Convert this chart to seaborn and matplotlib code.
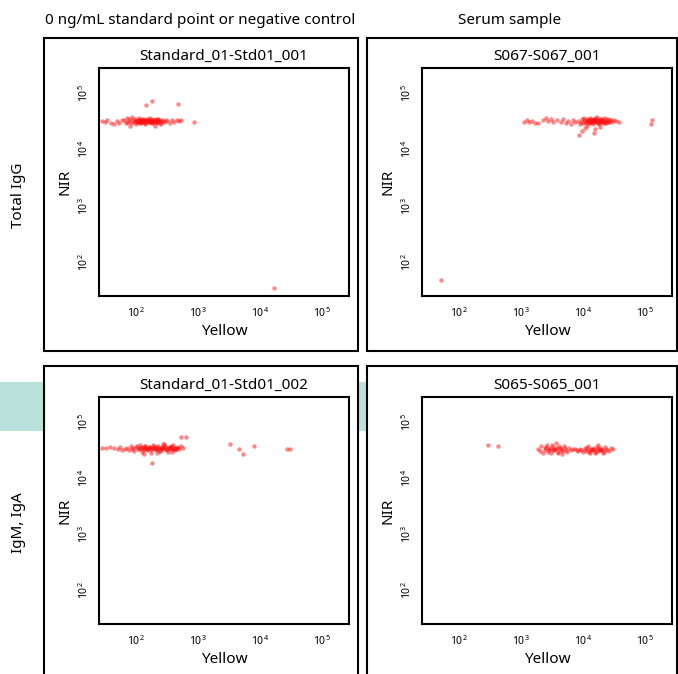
import numpy as np
import pandas as pd
import matplotlib
matplotlib.use("Agg")
import matplotlib.pyplot as plt
from matplotlib.patches import Rectangle
from matplotlib.ticker import NullLocator
import seaborn as sns

# ---------------- data (log10 values) ----------------
col_headers = ["0 ng/mL standard point or negative control", "Serum sample"]
row_labels = ["Total IgG", "IgM, IgA"]
titles = ["Standard_01-Std01_001", "S067-S067_001", "Standard_01-Std01_002", "S065-S065_001"]
x_label = "Yellow"
y_label = "NIR"
tick_exponents = [2, 3, 4, 5]

p1_yellow = [1.45, 1.49, 1.53, 1.60, 1.64, 1.69, 1.73, 1.77,
             1.80, 1.83, 1.86, 1.88, 1.90, 1.92, 1.94, 1.96, 1.98, 2.00, 2.02, 2.04, 2.06, 2.08, 2.10, 2.12,
             2.14, 2.16, 2.18, 2.20, 2.22, 2.24, 2.26, 2.28, 2.30, 2.32, 2.34, 2.36, 2.38, 2.40, 2.42, 2.45,
             1.85, 1.89, 1.93, 1.97, 2.01, 2.03, 2.05, 2.07, 2.09, 2.11, 2.13, 2.15, 2.17, 2.19, 2.21, 2.23,
             2.25, 2.27, 2.29, 2.31, 2.33, 2.35, 2.37, 2.39, 2.43, 2.48,
             2.00, 2.04, 2.08, 2.12, 2.16, 2.20, 2.24, 2.28, 2.32, 2.36, 2.02, 2.06, 2.10, 2.14, 2.18, 2.22,
             2.26, 2.30, 2.34,
             2.50, 2.54, 2.58, 2.62, 2.66, 2.70, 2.73,
             2.16, 2.26, 2.68, 2.94, 4.23]
p1_nir = [4.50, 4.49, 4.51, 4.47, 4.44, 4.50, 4.47, 4.52,
          4.52, 4.46, 4.55, 4.49, 4.42, 4.51, 4.57, 4.48, 4.53, 4.45, 4.50, 4.56, 4.47, 4.52, 4.49, 4.54,
          4.44, 4.51, 4.48, 4.55, 4.50, 4.46, 4.53, 4.49, 4.41, 4.52, 4.47, 4.54, 4.50, 4.45, 4.51, 4.48,
          4.49, 4.53, 4.47, 4.51, 4.48, 4.52, 4.50, 4.46, 4.53, 4.49, 4.51, 4.47, 4.52, 4.50, 4.48, 4.53,
          4.50, 4.47, 4.51, 4.49, 4.54, 4.48, 4.51, 4.46, 4.50, 4.52,
          4.50, 4.51, 4.49, 4.50, 4.52, 4.49, 4.50, 4.51, 4.48, 4.50, 4.48, 4.52, 4.50, 4.49, 4.51, 4.50,
          4.48, 4.52, 4.50,
          4.50, 4.47, 4.52, 4.49, 4.51, 4.50, 4.52,
          4.79, 4.86, 4.80, 4.49, 1.54]

p2_yellow = [3.05, 3.09, 3.13, 3.17, 3.22, 3.27, 3.36, 3.40, 3.44, 3.48, 3.52, 3.58, 3.64, 3.68, 3.72,
             3.76, 3.80, 3.84, 3.88,
             3.92, 3.95, 3.98, 4.00, 4.02, 4.04, 4.06, 4.08, 4.10, 4.12, 4.14, 4.16, 4.18, 4.20, 4.22,
             4.24, 4.26, 4.28, 4.30, 4.32, 4.34, 4.36, 4.38, 4.40, 4.42, 4.44, 4.47, 4.50, 4.54, 4.58,
             3.97, 4.01, 4.05, 4.07, 4.09, 4.11, 4.13, 4.15, 4.17, 4.19, 4.21, 4.23, 4.25, 4.27, 4.29,
             4.31, 4.33, 4.35, 4.37, 4.39, 4.41, 4.45, 4.03, 4.27,
             4.06, 4.10, 4.14, 4.18, 4.22, 4.26, 4.30, 4.34, 4.08, 4.12, 4.16, 4.20, 4.24, 4.28,
             3.94, 3.98, 4.18, 4.20, 5.10, 5.12, 1.71]
p2_nir = [4.49, 4.51, 4.48, 4.50, 4.47, 4.46, 4.52, 4.55, 4.50, 4.53, 4.49, 4.51, 4.48, 4.54, 4.46,
          4.50, 4.44, 4.52, 4.49,
          4.50, 4.44, 4.53, 4.47, 4.55, 4.49, 4.42, 4.52, 4.46, 4.56, 4.50, 4.45, 4.53, 4.48, 4.57,
          4.51, 4.44, 4.54, 4.49, 4.47, 4.55, 4.50, 4.46, 4.53, 4.48, 4.51, 4.49, 4.52, 4.50, 4.48,
          4.49, 4.52, 4.47, 4.54, 4.50, 4.46, 4.53, 4.49, 4.51, 4.55, 4.48, 4.52, 4.47, 4.50, 4.54,
          4.49, 4.51, 4.46, 4.53, 4.50, 4.48, 4.51, 4.38, 4.40,
          4.50, 4.51, 4.49, 4.52, 4.50, 4.48, 4.51, 4.50, 4.49, 4.52, 4.50, 4.51, 4.49, 4.50,
          4.26, 4.33, 4.29, 4.36, 4.45, 4.51, 1.68]

p3_yellow = [1.45, 1.52, 1.58, 1.65, 1.71, 1.74, 1.77,
             1.85, 1.88, 1.91, 1.94, 1.97, 2.00, 2.03, 2.06, 2.09, 2.12, 2.15, 2.18, 2.21, 2.24, 2.27,
             2.30, 2.33, 2.36, 2.39, 2.42, 2.45, 2.48, 2.51, 2.54, 2.57, 2.60, 2.63, 2.66, 2.69, 2.72,
             2.75, 1.82,
             1.95, 2.02, 2.05, 2.08, 2.11, 2.14, 2.17, 2.20, 2.23, 2.26, 2.29, 2.32, 2.35, 2.38, 2.41,
             2.44, 2.47, 2.50, 2.53, 2.56, 2.59, 2.62, 2.65, 2.68, 2.13, 2.33, 2.43, 2.58,
             2.07, 2.10, 2.13, 2.16, 2.19, 2.22, 2.25, 2.28, 2.31, 2.34, 2.37, 2.40, 2.43, 2.46, 2.49,
             2.52, 2.55, 2.58, 2.61, 2.64,
             2.73, 2.81, 2.26, 3.52, 3.66, 3.73, 3.90, 4.44, 4.49]
p3_nir = [4.54, 4.54, 4.55, 4.53, 4.51, 4.55, 4.50,
          4.54, 4.50, 4.57, 4.52, 4.48, 4.55, 4.51, 4.59, 4.47, 4.53, 4.56, 4.49, 4.54, 4.45, 4.58,
          4.52, 4.50, 4.56, 4.48, 4.54, 4.60, 4.51, 4.47, 4.55, 4.52, 4.58, 4.49, 4.54, 4.51, 4.56,
          4.53, 4.52,
          4.53, 4.56, 4.51, 4.54, 4.49, 4.57, 4.52, 4.55, 4.50, 4.53, 4.57, 4.51, 4.54, 4.48, 4.55,
          4.52, 4.56, 4.50, 4.53, 4.57, 4.51, 4.54, 4.52, 4.55, 4.42, 4.44, 4.61, 4.46,
          4.53, 4.55, 4.52, 4.54, 4.53, 4.55, 4.52, 4.54, 4.53, 4.55, 4.52, 4.54, 4.53, 4.55, 4.52,
          4.54, 4.53, 4.55, 4.52, 4.54,
          4.72, 4.72, 4.27, 4.61, 4.52, 4.43, 4.56, 4.52, 4.52]

p4_yellow = [2.47, 2.63,
             3.27, 3.30, 3.33, 3.36, 3.39, 3.42, 3.45, 3.48, 3.51, 3.54, 3.57, 3.60, 3.63, 3.66, 3.69,
             3.72, 3.75, 3.78, 3.81, 3.84,
             3.38, 3.41, 3.44, 3.47, 3.50, 3.53, 3.56, 3.59, 3.62, 3.65, 3.68, 3.71, 3.46, 3.52, 3.58, 3.64,
             3.87, 3.90, 3.92, 3.95,
             3.97, 4.00, 4.03, 4.06, 4.09, 4.12, 4.15, 4.18, 4.21, 4.24, 4.27, 4.30, 4.33, 4.36, 4.39,
             4.42, 4.45, 4.48,
             4.04, 4.07, 4.10, 4.13, 4.16, 4.19, 4.22, 4.25, 4.28, 4.31, 4.34, 4.37, 4.12, 4.18, 4.24, 4.30]
p4_nir = [4.59, 4.56,
          4.52, 4.48, 4.56, 4.45, 4.53, 4.59, 4.49, 4.44, 4.55, 4.51, 4.62, 4.47, 4.54, 4.42, 4.57,
          4.50, 4.46, 4.53, 4.49, 4.51,
          4.50, 4.55, 4.47, 4.53, 4.58, 4.49, 4.52, 4.45, 4.56, 4.50, 4.48, 4.54, 4.52, 4.50, 4.53, 4.51,
          4.52, 4.50, 4.48, 4.51,
          4.50, 4.46, 4.53, 4.48, 4.56, 4.44, 4.51, 4.54, 4.47, 4.58, 4.49, 4.52, 4.45, 4.55, 4.50,
          4.48, 4.53, 4.51,
          4.49, 4.54, 4.47, 4.52, 4.50, 4.45, 4.55, 4.48, 4.53, 4.50, 4.46, 4.52, 4.50, 4.49, 4.51, 4.50]

panels_yellow = [p1_yellow, p2_yellow, p3_yellow, p4_yellow]
panels_nir = [p1_nir, p2_nir, p3_nir, p4_nir]

# ---------------- style ----------------
sns.set_style("white")
plt.rcParams['font.family'] = ['Noto Sans', 'DejaVu Sans']
plt.rcParams['mathtext.fontset'] = 'custom'
plt.rcParams['mathtext.rm'] = 'Noto Sans'
plt.rcParams['mathtext.it'] = 'Noto Sans'
for k in ['text.color', 'axes.labelcolor', 'xtick.color', 'ytick.color']:
    plt.rcParams[k] = 'black'

W, H = 678, 674
fig = plt.figure(figsize=(W / 100, H / 100), dpi=100)

# background layer in pixel coordinates
bg = fig.add_axes([0, 0, 1, 1], zorder=-5)
bg.set_xlim(0, W)
bg.set_ylim(H, 0)
bg.axis('off')
bg.add_patch(Rectangle((0, 382), 366, 49, facecolor='#b9e2dc', edgecolor='none', zorder=0))
outer = [(44, 38, 358, 351), (367, 38, 677, 351), (44, 366, 358, 676), (367, 366, 677, 676)]
for (x0, y0, x1, y1) in outer:
    bg.add_patch(Rectangle((x0, y0), x1 - x0, y1 - y0, facecolor='white', edgecolor='black',
                           linewidth=1.5, zorder=1))
bg.text(45, 20, col_headers[0], fontsize=11, ha='left', va='center')
bg.text(510, 20, col_headers[1], fontsize=11, ha='center', va='center')
bg.text(18, 195, row_labels[0], fontsize=11, rotation=90, ha='center', va='center')
bg.text(18, 523, row_labels[1], fontsize=11, rotation=90, ha='center', va='center')

inner = [(99, 68, 349, 296), (422, 68, 672, 296), (99, 397, 349, 624), (422, 397, 672, 624)]
xlo, xhi = 10 ** 1.4, 10 ** 5.44
ylo, yhi = 10 ** 1.4, 10 ** 5.44

for i, (l, t, r, b) in enumerate(inner):
    ax = fig.add_axes([l / W, 1 - b / H, (r - l) / W, (b - t) / H], zorder=1)
    df = pd.DataFrame({"Yellow": 10 ** np.array(panels_yellow[i]),
                       "NIR": 10 ** np.array(panels_nir[i])})
    sns.scatterplot(data=df, x="Yellow", y="NIR", ax=ax, color='#ff1010', s=10,
                    alpha=0.5, linewidth=0, marker='o')
    ax.set_xscale('log')
    ax.set_yscale('log')
    ax.set_xlim(xlo, xhi)
    ax.set_ylim(ylo, yhi)
    ticks = [10.0 ** e for e in tick_exponents]
    labels = [r"$10^{%d}$" % e for e in tick_exponents]
    ax.set_xticks(ticks)
    ax.set_xticklabels(labels, fontsize=7.5)
    ax.set_yticks(ticks)
    ax.set_yticklabels(labels, fontsize=7.5, rotation=90, va='center')
    ax.xaxis.set_minor_locator(NullLocator())
    ax.yaxis.set_minor_locator(NullLocator())
    ax.tick_params(axis='x', which='major', direction='out', length=4, width=1.4, pad=3)
    ax.tick_params(axis='y', which='major', direction='out', length=4, width=1.4, pad=1.5)
    for sp in ax.spines.values():
        sp.set_linewidth(1.5)
        sp.set_color('black')
    ax.set_xlabel(x_label, fontsize=11, labelpad=3)
    ax.set_ylabel(y_label, fontsize=11, labelpad=4)
    ax.set_title(titles[i], fontsize=11, pad=6)
    ax.set_facecolor('white')

fig.savefig("out.png", dpi=100)
